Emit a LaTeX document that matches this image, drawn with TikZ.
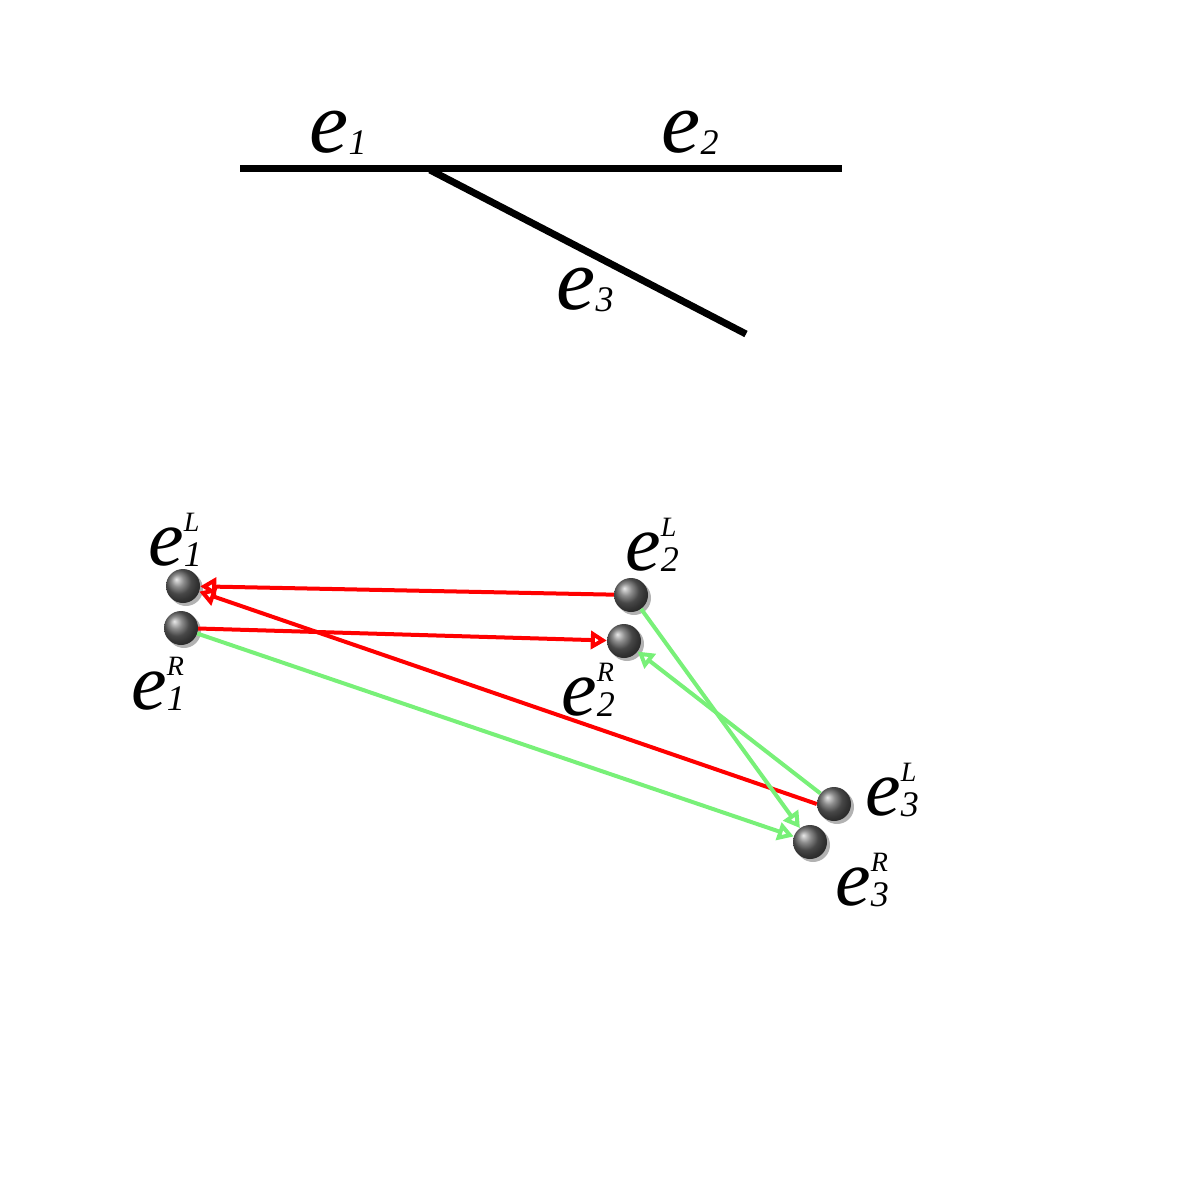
\documentclass[tikz,border=0pt]{standalone}
\usepackage{fontspec}
\setmainfont{Liberation Serif}
\usetikzlibrary{arrows.meta}
\newcommand{\ee}[2]{\textit{e}\makebox[0pt][l]{\raisebox{0.42em}{\fontsize{28}{30}\selectfont\textit{#2}}}\raisebox{-0.02em}{\fontsize{36}{38}\selectfont\textit{#1}}}
\newcommand{\es}[1]{\textit{e}\raisebox{-0.02em}{\fontsize{36}{38}\selectfont\textit{#1}}}
\definecolor{grn}{RGB}{120,240,120}
\tikzset{
 ballnd/.style={circle,minimum size=34pt,inner sep=0pt,shading=ball,ball color=black!60},
 shadownd/.style={circle,minimum size=34pt,inner sep=0pt,fill=black!35},
 lbl/.style={font=\fontsize{80}{80}\selectfont,inner sep=0pt},
 redar/.style={draw=red,line width=4pt,-{Triangle[open,length=16pt,width=18pt,line width=4pt]}},
 grnar/.style={draw=grn,line width=4pt,-{Triangle[open,length=16pt,width=18pt,line width=4pt]}}
}
\begin{document}
\begin{tikzpicture}[x=1pt,y=-1pt]
\useasboundingbox (0,0) rectangle (1182,1182);
% top
\coordinate (h1) at (240,169); \coordinate (h2) at (842,169);
\coordinate (d1) at (430,170); \coordinate (d2) at (746,334);
\draw[line width=7pt] (h1) -- (h2);
\draw[line width=7pt] (d1) -- (d2);
\node[lbl,font=\fontsize{88}{88}\selectfont] (t1) at (338,133) {\es{1}};
\node[lbl,font=\fontsize{88}{88}\selectfont] (t2) at (690,133) {\es{2}};
\node[lbl,font=\fontsize{88}{88}\selectfont] (t3) at (585,290) {\es{3}};
% shadows
\foreach \x/\y in {183/586,181/628,631/595,624/641,834/804,810/842}
  \fill[black!30] (\x+3,\y+3) circle (17pt);
% balls
\node[ballnd] (a) at (183,586) {};
\node[ballnd] (b) at (181,628) {};
\node[ballnd] (c) at (631,595) {};
\node[ballnd] (d) at (624,641) {};
\node[ballnd] (e) at (834,804) {};
\node[ballnd] (f) at (810,842) {};
% labels
\node[lbl] (la) at (175,540) {\ee{1}{L}};
\node[lbl] (lb) at (158,684) {\ee{1}{R}};
\node[lbl] (lc) at (652,545) {\ee{2}{L}};
\node[lbl] (ld) at (588,690) {\ee{2}{R}};
\node[lbl] (le) at (892,790) {\ee{3}{L}};
\node[lbl] (lf) at (862,880) {\ee{3}{R}};
% arrows
\draw[redar] (c) -- (a);
\draw[redar] (b) -- (d);
\draw[redar] (e.west) -- (a);
\draw[grnar] (b) -- (f);
\draw[grnar] (c) -- (f);
\draw[grnar] (e) -- (d);
\end{tikzpicture}
\end{document}
